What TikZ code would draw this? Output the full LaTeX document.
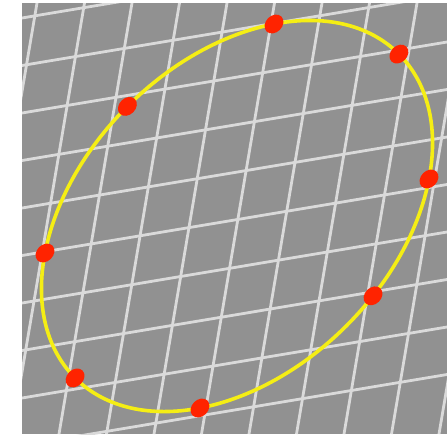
\documentclass[tikz,border=0pt]{standalone}
\usetikzlibrary{shapes.geometric}
\definecolor{elgrey}{RGB}{145,145,145}
\definecolor{elgrid}{RGB}{218,218,218}
\definecolor{elyellow}{RGB}{245,238,20}
\definecolor{elred}{RGB}{255,35,0}
\def\elCX{237}
\def\elCY{216}
\def\elStep{47.5}

\begin{document}
\begin{tikzpicture}[
    x=1pt, y=-1pt,
    elgrd/.style   = {elgrid, line width=2.8pt},
    elcurve/.style = {elyellow, line width=3.6pt},
    eldot/.style   = {ellipse, fill=elred, inner sep=0pt,
                      minimum width=21pt, minimum height=16.5pt, transform shape}]

  \useasboundingbox (0,0) rectangle (447,437);
  \fill[elgrey] (22,3) rectangle (447,434);

  %% ---- sheared grid -------------------------------------------------
  \begin{scope}
    \clip (22,3) rectangle (447,434);
    \foreach \k in {-2,...,9}
      \draw[elgrd] (22,{18+\elStep*\k}) -- (447,{18+\elStep*\k-71});
    \foreach \k in {0,...,10}
      \draw[elgrd] ({37+\elStep*\k},3) -- ({37+\elStep*\k-73},434);
  \end{scope}

  %% ---- ellipse and its eight points ---------------------------------
  \begin{scope}[shift={(\elCX,\elCY)}, rotate=45, y=1pt]
    \draw[elcurve] (0,0) ellipse [x radius=229, y radius=155];
    \foreach \t in {0,45,90,135,180,225,280,315}
      \node[eldot] (dot\t) at (\t:229 and 155) {};
  \end{scope}
\end{tikzpicture}
\end{document}
